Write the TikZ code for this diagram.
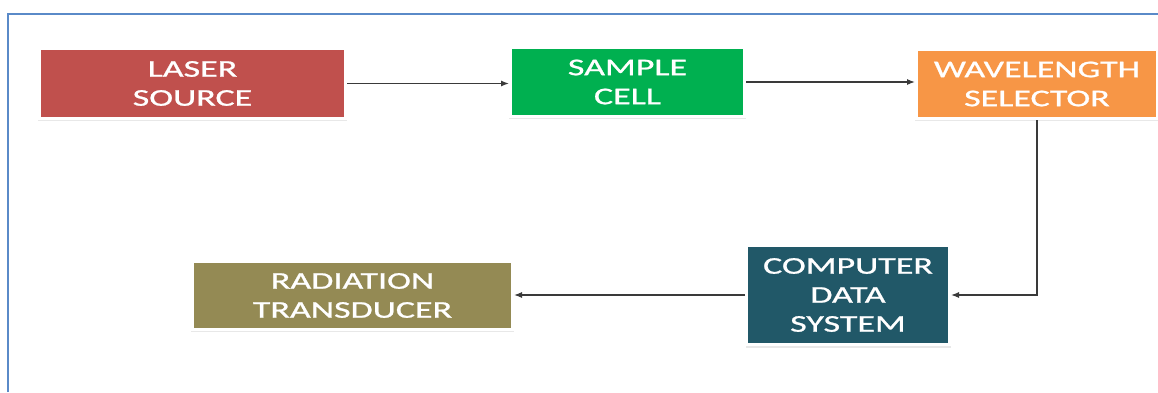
\documentclass[tikz,border=0pt]{standalone}
\usepackage{fontspec}
\setmainfont{Carlito}[FakeStretch=1.5, FakeBold=1]
\usetikzlibrary{arrows.meta,shadows}

\definecolor{laserred}{HTML}{C0504D}
\definecolor{cellgreen}{HTML}{00B050}
\definecolor{selorange}{HTML}{F79646}
\definecolor{compteal}{HTML}{215868}
\definecolor{radolive}{HTML}{948A54}
\definecolor{framblue}{HTML}{5A8AC8}
\definecolor{linkgray}{HTML}{3A3A3A}

\tikzset{
  block/.style={
    draw=white, line width=3pt, inner sep=0pt, align=center,
    text=white, font=\fontsize{24}{29}\selectfont,
    drop shadow={shadow xshift=0pt, shadow yshift=-2.5pt, shadow scale=1.01, opacity=0.18}
  },
  link/.style={draw=linkgray, line width=1.2pt,
    -{Latex[length=8pt,width=6pt]}}
}

\begin{document}
\begin{tikzpicture}[x=1pt,y=-1pt]
  \useasboundingbox (0,0) rectangle (1158,392);
  \fill[white] (0,0) rectangle (1158,392);

  % outer frame, open towards the right and bottom edges
  \draw[framblue, line width=1.5pt] (8,392) -- (8,14) -- (1158,14);

  % processing stages
  \node[block, fill=laserred,  minimum width=306pt, minimum height=70pt]
    (laser) at (192.5,83.5) {LASER\\SOURCE};
  \node[block, fill=cellgreen, minimum width=234pt, minimum height=69pt]
    (sample) at (627.5,82) {SAMPLE\\CELL};
  \node[block, fill=selorange, minimum width=241pt, minimum height=69pt]
    (select) at (1037,84) {WAVELENGTH\\SELECTOR};
  \node[block, fill=compteal,  minimum width=203pt, minimum height=99pt]
    (comp) at (848,295) {COMPUTER\\DATA\\SYSTEM};
  \node[block, fill=radolive,  minimum width=320pt, minimum height=68pt]
    (rad) at (352.5,295.5) {RADIATION\\TRANSDUCER};

  % signal path
  \draw[link] (laser.east) -- (laser.east -| sample.west);
  \draw[link] (sample.east) -- (sample.east -| select.west);
  \draw[link] (select.south) |- (comp.east);
  \draw[link] (comp.west) -- (comp.west -| rad.east);
\end{tikzpicture}
\end{document}
